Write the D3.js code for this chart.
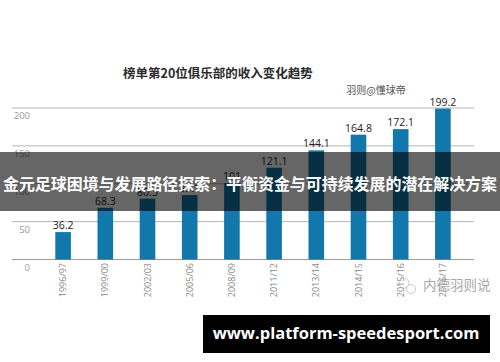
<!DOCTYPE html>
<html>
<head>
<meta charset="utf-8">
<script src="https://cdn.jsdelivr.net/npm/d3@7"></script>
<style>
  html, body { margin: 0; padding: 0; background: #fff; }
  svg { display: block; }
</style>
</head>
<body>
<svg id="chart"></svg>
<script>
// data
const seasons = ["1996/97", "1999/00", "2002/03", "2005/06", "2008/09", "2011/12", "2013/14", "2014/15", "2015/16", "2016/17"];
const revenue = [36.2, 68.3, 80.3, 85.1, 101, 121.1, 144.1, 164.8, 172.1, 199.2];
const valueLabels = ["36.2", "68.3", "80.3", "85.1", "101", "121.1", "144.1", "164.8", "172.1", "199.2"];
const yTicks = [0, 50, 100, 150, 200];

const titleText = "榜单第20位俱乐部的收入变化趋势";
const creditText = "羽则@懂球帝";
const bannerText = "金元足球困境与发展路径探索：平衡资金与可持续发展的潜在解决方案";
const watermarkText = "内德羽则说";
const urlText = "www.platform-speedesport.com";

const width = 500, height = 362;
const svg = d3.select("#chart").attr("width", width).attr("height", height);

const cjk = "'Noto Sans CJK SC', 'Noto Sans', sans-serif";
const latin = "'Open Sans', 'Noto Sans', sans-serif";

// scales
const x = d3.scaleBand()
  .domain(seasons)
  .range([42, 464])
  .paddingInner(0.63)
  .paddingOuter(0.315);

const y = d3.scaleLinear()
  .domain([0, 200])
  .range([259.5, 108]);

// gridlines + tick labels (labels sit just under each line)
const grid = svg.append("g");
grid.selectAll("line")
  .data(yTicks)
  .enter()
  .append("line")
  .attr("x1", 12).attr("x2", 474)
  .attr("y1", d => y(d)).attr("y2", d => y(d))
  .attr("stroke", d => d === 0 ? "#9a9a9a" : "#b4b4b4")
  .attr("stroke-width", 1);

grid.selectAll("text")
  .data(yTicks)
  .enter()
  .append("text")
  .attr("x", 30)
  .attr("y", d => y(d) + 11)
  .attr("text-anchor", "end")
  .attr("font-family", latin)
  .attr("font-size", 9.5)
  .attr("fill", "#9a9a9a")
  .text(d => d);

// bars
const bars = svg.append("g");
bars.selectAll("rect")
  .data(revenue)
  .enter()
  .append("rect")
  .attr("x", (d, i) => x(seasons[i]))
  .attr("y", d => y(d))
  .attr("width", x.bandwidth())
  .attr("height", d => y(0) - y(d))
  .attr("fill", "#1277ab");

// value labels
bars.selectAll("text")
  .data(revenue)
  .enter()
  .append("text")
  .attr("x", (d, i) => x(seasons[i]) + x.bandwidth() / 2)
  .attr("y", d => y(d) - 3)
  .attr("text-anchor", "middle")
  .attr("font-family", latin)
  .attr("font-size", 10.5)
  .attr("fill", "#222")
  .text((d, i) => valueLabels[i]);

// season labels, rotated
svg.append("g").selectAll("text")
  .data(seasons)
  .enter()
  .append("text")
  .attr("transform", d => `translate(${x(d) + x.bandwidth() / 2 + 3},263) rotate(-90)`)
  .attr("text-anchor", "end")
  .attr("font-family", latin)
  .attr("font-size", 9)
  .attr("fill", "#8a8a8a")
  .text(d => d);

// title + credit
svg.append("text")
  .attr("x", 218).attr("y", 78)
  .attr("text-anchor", "middle")
  .attr("font-family", cjk)
  .attr("font-weight", "bold")
  .attr("font-size", 12.5)
  .attr("fill", "#2a2a2a")
  .text(titleText);

svg.append("text")
  .attr("x", 376).attr("y", 94)
  .attr("text-anchor", "middle")
  .attr("font-family", cjk)
  .attr("font-size", 10)
  .attr("fill", "#555")
  .text(creditText);

// watermark
const wm = svg.append("g").attr("opacity", 0.75);
wm.append("circle").attr("cx", 404).attr("cy", 283).attr("r", 5).attr("fill", "none").attr("stroke", "#bbb").attr("stroke-width", 1);
wm.append("circle").attr("cx", 411).attr("cy", 289).attr("r", 4.5).attr("fill", "none").attr("stroke", "#bbb").attr("stroke-width", 1);
wm.append("text")
  .attr("x", 423).attr("y", 290)
  .attr("font-family", cjk)
  .attr("font-size", 13.5)
  .attr("fill", "#8a8a8a")
  .attr("stroke", "#fff")
  .attr("stroke-width", 0.6)
  .attr("paint-order", "stroke")
  .text(watermarkText);

// dark banner over the chart
svg.append("rect")
  .attr("x", 0).attr("y", 152)
  .attr("width", width).attr("height", 59)
  .attr("fill", "#000")
  .attr("fill-opacity", 0.6);

svg.append("text")
  .attr("x", 250).attr("y", 190)
  .attr("text-anchor", "middle")
  .attr("font-family", cjk)
  .attr("font-weight", "bold")
  .attr("font-size", 16)
  .attr("fill", "#fff")
  .attr("textLength", 494)
  .attr("lengthAdjust", "spacingAndGlyphs")
  .text(bannerText);

// url box at the bottom
svg.append("rect")
  .attr("x", 203).attr("y", 315)
  .attr("width", 287).attr("height", 38)
  .attr("fill", "#000");

svg.append("text")
  .attr("x", 346).attr("y", 339)
  .attr("text-anchor", "middle")
  .attr("font-family", latin)
  .attr("font-weight", "bold")
  .attr("font-size", 16.5)
  .attr("fill", "#fff")
  .text(urlText);
</script>
</body>
</html>
